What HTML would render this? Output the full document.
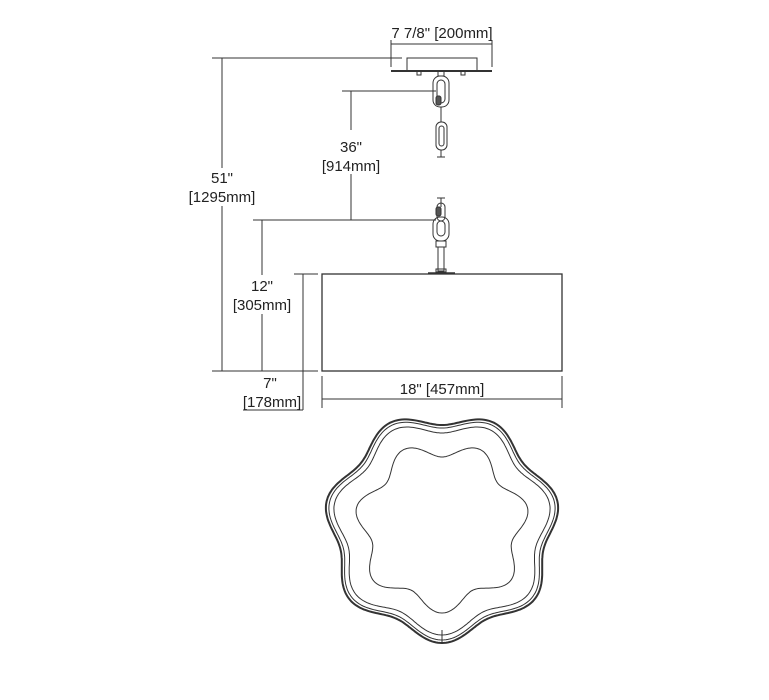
<!DOCTYPE html>
<html><head><meta charset="utf-8"><style>
html,body{margin:0;padding:0;background:#fff;}
svg{display:block;}
text{font-family:"Liberation Sans",sans-serif;font-size:15px;fill:#222;text-anchor:middle;}
</style></head><body>
<svg id="s" width="769" height="700" viewBox="0 0 769 700" xmlns="http://www.w3.org/2000/svg">
<g stroke="#333" stroke-width="1" fill="none">
<line x1="391" y1="44" x2="492" y2="44"/>
<line x1="391" y1="40" x2="391" y2="67"/>
<line x1="492" y1="40" x2="492" y2="67"/>
<rect x="407" y="58" width="70" height="13"/>
<line x1="391" y1="71" x2="492" y2="71" stroke-width="2"/>
<rect x="417" y="71" width="4" height="4"/>
<rect x="461" y="71" width="4" height="4"/>
<line x1="212" y1="58" x2="402" y2="58"/>
<line x1="222" y1="58" x2="222" y2="168"/>
<line x1="222" y1="206" x2="222" y2="371"/>
<line x1="342" y1="91" x2="436" y2="91"/>
<line x1="351" y1="91" x2="351" y2="130"/>
<line x1="351" y1="174" x2="351" y2="220"/>
<line x1="253" y1="220" x2="436" y2="220"/>
<line x1="262" y1="220" x2="262" y2="275"/>
<line x1="262" y1="314" x2="262" y2="371"/>
<line x1="212" y1="371" x2="318" y2="371"/>
<line x1="294" y1="274" x2="318" y2="274"/>
<line x1="303" y1="274" x2="303" y2="410"/>
<line x1="243" y1="410" x2="303" y2="410"/>
<rect x="322" y="274" width="240" height="97" stroke-width="1.3"/>
<line x1="322" y1="376" x2="322" y2="408"/>
<line x1="562" y1="376" x2="562" y2="408"/>
<line x1="322" y1="399" x2="562" y2="399"/>
<rect x="438" y="71" width="6" height="5"/>
<rect x="433" y="76" width="16" height="31" rx="7"/>
<rect x="437" y="80" width="8" height="23" rx="4"/>
<rect x="436" y="96" width="5" height="9" rx="2" fill="#555"/>
<line x1="441" y1="107" x2="441" y2="122"/>
<rect x="436" y="122" width="11" height="28" rx="5"/>
<rect x="439" y="126" width="5" height="20" rx="2.5"/>
<line x1="441" y1="150" x2="441" y2="157"/>
<line x1="437" y1="157" x2="445" y2="157"/>
<line x1="437" y1="198" x2="445" y2="198"/>
<line x1="441" y1="198" x2="441" y2="207"/>
<rect x="437" y="203" width="8" height="18" rx="4"/>
<rect x="436" y="207" width="5" height="9" rx="2" fill="#555"/>
<rect x="433" y="217" width="16" height="24" rx="7"/>
<rect x="437" y="221" width="8" height="15" rx="4"/>
<rect x="436" y="241" width="10" height="6"/>
<rect x="438" y="247" width="6" height="24"/>
<rect x="436" y="269" width="10" height="3"/>
<line x1="428" y1="273" x2="455" y2="273" stroke-width="1.5"/>
<path id="f1" stroke-width="2"/>
<path id="f2"/>
<path id="f3"/>
<path id="f4"/>
<line x1="442" y1="630" x2="442" y2="642"/>
</g>
<text x="442" y="38">7 7/8" [200mm]</text>
<text x="351" y="152">36"</text>
<text x="351" y="171">[914mm]</text>
<text x="222" y="183">51"</text>
<text x="222" y="202">[1295mm]</text>
<text x="262" y="291">12"</text>
<text x="262" y="310">[305mm]</text>
<text x="270" y="388">7"</text>
<text x="272" y="407">[178mm]</text>
<text x="442" y="394">18" [457mm]</text>
</svg>
<script>
function fl(R,A,ph){var d="";for(var i=0;i<=360;i++){var t=i*Math.PI/180;var r=R+A*Math.cos(7*(t-Math.PI/2)+ph);var x=442+r*Math.cos(t)*1.02,y=527+r*Math.sin(t);d+=(i?"L":"M")+x.toFixed(1)+" "+y.toFixed(1);}return d+"Z";}
document.getElementById("f1").setAttribute("d",fl(109,7,0));
document.getElementById("f2").setAttribute("d",fl(106,7,0));
document.getElementById("f3").setAttribute("d",fl(101,7,0));
document.getElementById("f4").setAttribute("d",fl(78,8,0));
</script>
</body></html>
